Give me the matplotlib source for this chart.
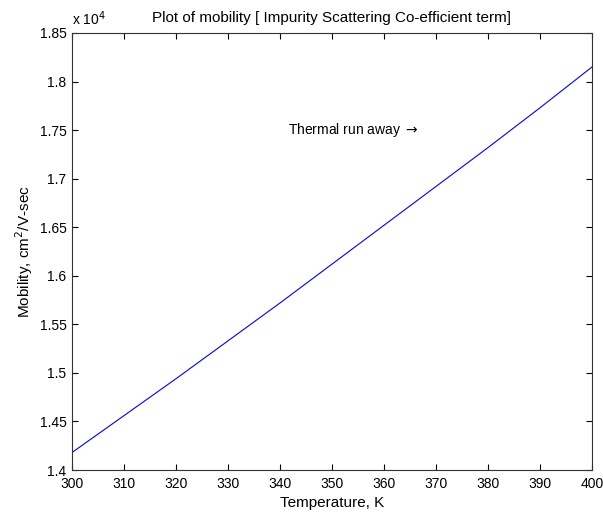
import numpy as np
import matplotlib
matplotlib.use("Agg")
import matplotlib.pyplot as plt
from matplotlib.ticker import FuncFormatter

# temperature (K) and mobility (cm^2/V-sec)
temperature = [300, 310, 320, 330, 340, 350, 360, 370, 380, 390, 400]
mobility = [14180, 14560, 14940, 15330, 15720, 16120, 16520, 16920, 17320, 17730, 18150]

x_ticks = [300, 310, 320, 330, 340, 350, 360, 370, 380, 390, 400]
y_ticks = [1.4, 1.45, 1.5, 1.55, 1.6, 1.65, 1.7, 1.75, 1.8, 1.85]

plt.rcParams['font.family'] = ['Liberation Sans', 'DejaVu Sans']

fig = plt.figure(figsize=(6.03, 5.14), dpi=100)
ax = fig.add_axes([72 / 603, 1 - 470 / 514, 520 / 603, 437 / 514])

scaled = np.array(mobility) / 1e4
ax.plot(temperature, scaled, color="#0000ff", linewidth=0.8)

ax.set_xlim(300, 400)
ax.set_ylim(1.4, 1.85)
ax.set_xticks(x_ticks)
ax.set_yticks(y_ticks)
ax.yaxis.set_major_formatter(FuncFormatter(lambda v, p: "%g" % round(v, 2)))
ax.tick_params(direction="in", top=True, right=True, length=4, width=0.8,
               labelsize=10)
ax.tick_params(axis="x", pad=5)
ax.tick_params(axis="y", pad=4)
for s in ax.spines.values():
    s.set_linewidth(0.8)
    s.set_color("#333333")

ax.text(341.5, 1.75, "Thermal run away $\\rightarrow$", fontsize=10,
        va="center", ha="left")

# title and labels are 10% larger than tick text, matlab style
ax.set_title("Plot of mobility [ Impurity Scattering Co-efficient term]",
             fontsize=11, pad=8)
ax.text(0.0, 1.012, "x 10$^4$", transform=ax.transAxes, fontsize=10,
        ha="left", va="bottom")
ax.set_xlabel("Temperature, K", fontsize=11, labelpad=4)
ax.set_ylabel("Mobility, cm$^2$/V-sec", fontsize=11, labelpad=3)

fig.savefig("out.png", dpi=100)
